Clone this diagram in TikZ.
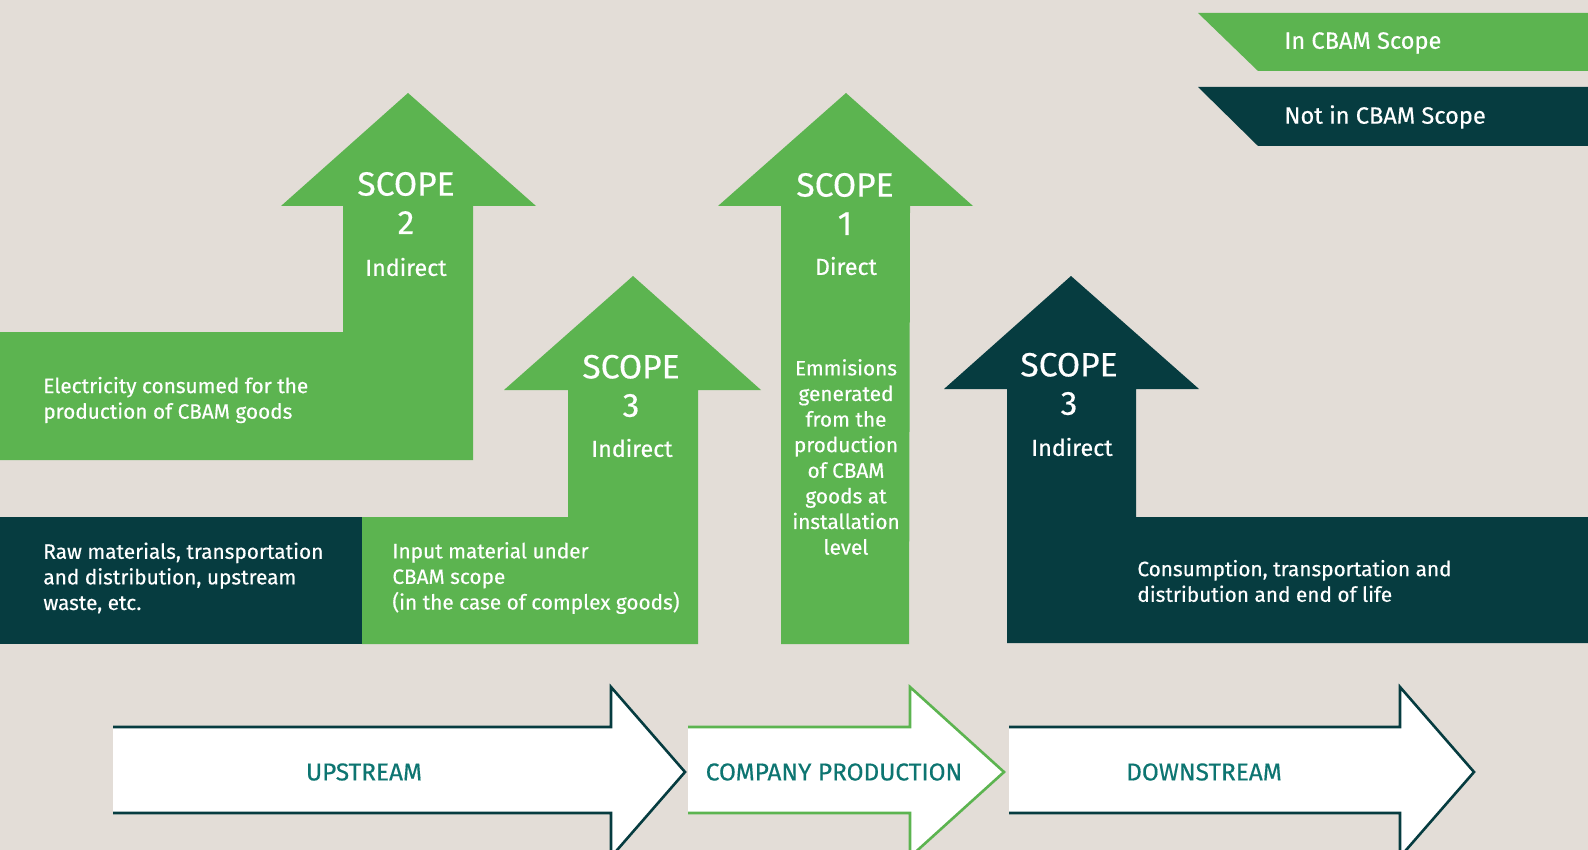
\documentclass[tikz,border=0pt]{standalone}
\usepackage{fontspec}
\setmainfont{Fira Sans}[FakeBold=0.4]
\definecolor{cbambg}{HTML}{E3DDD7}
\definecolor{cbamgreen}{HTML}{5CB450}
\definecolor{cbamdark}{HTML}{063C40}
\definecolor{cbamteal}{HTML}{0D7571}
\tikzset{
    inscope/.style={fill=cbamgreen},
    outscope/.style={fill=cbamdark},
    bodytxt/.style={text=white, inner sep=0pt, align=left, font=\fontsize{10.4}{12.8}\selectfont},
    scopetxt/.style={text=white, inner sep=0pt, align=center, font=\fontsize{16.8}{19.2}\selectfont},
    kindtxt/.style={text=white, inner sep=0pt, font=\fontsize{11.6}{14}\selectfont},
    legendtxt/.style={text=white, inner sep=0pt, anchor=west, font=\fontsize{11.8}{14}\selectfont},
    flowarrow/.style={fill=white, line width=1.3pt},
    flowtxt/.style={text=cbamteal, inner sep=0pt, font=\fontsize{12.2}{14}\selectfont},
}
\begin{document}
\begin{tikzpicture}[x=0.5pt, y=-0.5pt]
        \fill[cbambg] (0,0) rectangle (1588,850);
        \useasboundingbox (0,0) rectangle (1588,850);
        \clip (0,0) rectangle (1588,850);
        \fill[inscope] (1198,13) -- (1588,13) -- (1588,71) -- (1258,71) -- cycle;
        \fill[outscope] (1198,87) -- (1588,87) -- (1588,146) -- (1258,146) -- cycle;
        \node[legendtxt] (inleg) at (1284,43) {In CBAM Scope};
        \node[legendtxt] (outleg) at (1284,117) {Not in CBAM Scope};
        \fill[inscope] (0,332) -- (343,332) -- (343,206) -- (281,206) -- (408,93) -- (536,206) -- (473,206) -- (473,460) -- (0,460) -- cycle;
        \fill[outscope] (0,517) rectangle (362,644);
        \fill[inscope] (362,517) -- (568,517) -- (568,390) -- (504,390) -- (633,276) -- (761,390) -- (698,390) -- (698,644) -- (362,644) -- cycle;
        \fill[inscope] (781,644) -- (781,206) -- (718,206) -- (846,93) -- (973,206) -- (910,206) -- (909,644) -- cycle;
        \fill[outscope] (1007,643) -- (1007,389) -- (944,389) -- (1071,276) -- (1199,389) -- (1136,389) -- (1136,517) -- (1588,517) -- (1588,643) -- cycle;
        \node[scopetxt] (scopetwo) at (406,203) {SCOPE\\2};
        \node[kindtxt] (kindtwo) at (406,267) {Indirect};
        \node[scopetxt] (scopethreeup) at (631,386) {SCOPE\\3};
        \node[kindtxt] (kindthreeup) at (632,448) {Indirect};
        \node[scopetxt] (scopeone) at (845,204) {SCOPE\\1};
        \node[kindtxt] (kindone) at (846,266) {Direct};
        \node[scopetxt] (scopethreedown) at (1069,384) {SCOPE\\3};
        \node[kindtxt] (kindthreedown) at (1072,447) {Indirect};
        \node[bodytxt, anchor=west] (electricity) at (43,400) {Electricity consumed for the\\production of CBAM goods};
        \node[bodytxt, anchor=west] (rawmat) at (43,578) {Raw materials, transportation\\and distribution, upstream\\waste, etc.};
        \node[bodytxt, anchor=west] (inputmat) at (392,578) {Input material under\\CBAM scope\\(in the case of complex goods)};
        \node[bodytxt, align=center] (emissions) at (846,457) {Emmisions\\generated\\from the\\production\\of CBAM\\goods at\\installation\\level};
        \node[bodytxt, anchor=west] (consumption) at (1137,581) {Consumption, transportation and\\distribution and end of life};
        \filldraw[flowarrow, draw=cbamdark] (113,813) -- (611,813) -- (611,857) -- (685,772) -- (611,687) -- (611,727) -- (113,727);
        \filldraw[flowarrow, draw=cbamgreen] (688,813) -- (910,813) -- (910,857) -- (1004,772) -- (910,687) -- (910,727) -- (688,727);
        \filldraw[flowarrow, draw=cbamdark] (1009,813) -- (1400,813) -- (1400,857) -- (1474,772) -- (1400,687) -- (1400,727) -- (1009,727);
        \node[flowtxt] (upstream) at (364,772) {UPSTREAM};
        \node[flowtxt] (production) at (834,772) {COMPANY PRODUCTION};
        \node[flowtxt] (downstream) at (1204,772) {DOWNSTREAM};
\end{tikzpicture}
\end{document}
